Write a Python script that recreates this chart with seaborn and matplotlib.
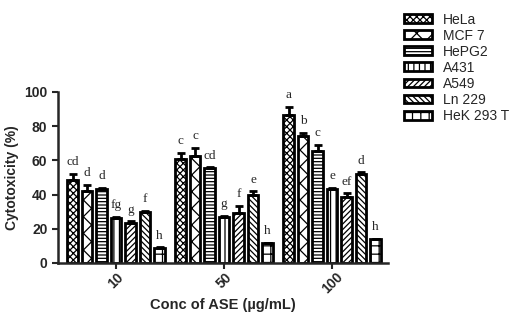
import numpy as np
import matplotlib
matplotlib.use('Agg')
import matplotlib.pyplot as plt
import matplotlib.patches as mpatches
import pandas as pd
import seaborn as sns

# data
conc = ['10', '50', '100']
cells = ['HeLa', 'MCF 7', 'HePG2', 'A431', 'A549', 'Ln 229', 'HeK 293 T']
hela = [48.5, 60.8, 86.3]
mcf7 = [42.3, 62.7, 74.0]
hepg2 = [43.0, 55.5, 65.7]
a431 = [26.5, 27.0, 43.4]
a549 = [23.5, 29.4, 38.8]
ln229 = [30.0, 39.8, 52.0]
hek = [8.8, 11.4, 13.8]

hela_err = [3.5, 3.5, 5.0]
mcf7_err = [3.5, 4.5, 2.0]
hepg2_err = [0.8, 0.5, 3.5]
a431_err = [0.5, 0.5, 0.5]
a549_err = [0.8, 4.0, 2.0]
ln229_err = [0.5, 2.0, 1.0]
hek_err = [0.5, 0.5, 0.5]

hela_lab = ['cd', 'c', 'a']
mcf7_lab = ['d', 'c', 'b']
hepg2_lab = ['d', 'cd', 'c']
a431_lab = ['fg', 'g', 'e']
a549_lab = ['g', 'f', 'ef']
ln229_lab = ['f', 'e', 'd']
hek_lab = ['h', 'h', 'h']

values = [hela, mcf7, hepg2, a431, a549, ln229, hek]
errors = [hela_err, mcf7_err, hepg2_err, a431_err, a549_err, ln229_err, hek_err]
letters = [hela_lab, mcf7_lab, hepg2_lab, a431_lab, a549_lab, ln229_lab, hek_lab]
hatches = ['xxxxx', 'xx', '-----', '|||', '//////', '\\\\\\\\\\\\', '++']

rows = []
for c, vals in zip(cells, values):
    for x, v in zip(conc, vals):
        rows.append({'conc': x, 'cell': c, 'value': v})
df = pd.DataFrame(rows)

sns.set_style('ticks')
plt.rcParams['font.family'] = ['Liberation Sans', 'DejaVu Sans']
plt.rcParams['hatch.linewidth'] = 0.9

fig = plt.figure(figsize=(5.26, 3.18), dpi=100)
ax = fig.add_axes([0.110, 0.173, 0.628, 0.538])

sns.barplot(data=df, x='conc', y='value', hue='cell', order=conc,
            hue_order=cells, width=0.94, gap=0.28, color='white',
            edgecolor='black', linewidth=2, errorbar=None, legend=False, ax=ax)

for cont, h, err, labs in zip(ax.containers, hatches, errors, letters):
    xs = []
    ys = []
    for bar in cont:
        bar.set_facecolor('white')
        bar.set_hatch(h)
        xs.append(bar.get_x() + bar.get_width() / 2)
        ys.append(bar.get_height())
    ax.errorbar(xs, ys, yerr=[np.zeros(len(err)), err], fmt='none',
                ecolor='black', elinewidth=2, capsize=3, capthick=2)
    for x, y, e, t in zip(xs, ys, err, labs):
        ax.annotate(t, (x, y + e), xytext=(0, 4), textcoords='offset points',
                    ha='center', va='bottom', fontsize=9.5,
                    family='Liberation Serif')

ax.set_xlim(-0.54, 2.52)
ax.set_ylim(0, 100)
ax.set_yticks([0, 20, 40, 60, 80, 100])
sns.despine(ax=ax)
for s in ['left', 'bottom']:
    ax.spines[s].set_linewidth(1.8)
ax.tick_params(width=1.5, length=4, labelsize=10)
ax.tick_params(axis='x', pad=1)
for t in ax.get_yticklabels() + ax.get_xticklabels():
    t.set_fontweight('bold')
plt.setp(ax.get_xticklabels(), rotation=45, ha='center')
ax.set_xlabel('Conc of ASE (\u00b5g/mL)', fontsize=10.5, fontweight='bold',
              labelpad=1)
ax.set_ylabel('Cytotoxicity (%)', fontsize=10, fontweight='bold')

handles = [mpatches.Patch(facecolor='white', edgecolor='black', linewidth=2,
                          hatch=h, label=c) for h, c in zip(hatches, cells)]
fig.legend(handles=handles, loc='upper left', bbox_to_anchor=(0.745, 1.0),
           frameon=False, fontsize=10, handlelength=2.0, handleheight=0.6,
           labelspacing=0.15, handletextpad=0.8)

plt.savefig('out.png', dpi=100)
